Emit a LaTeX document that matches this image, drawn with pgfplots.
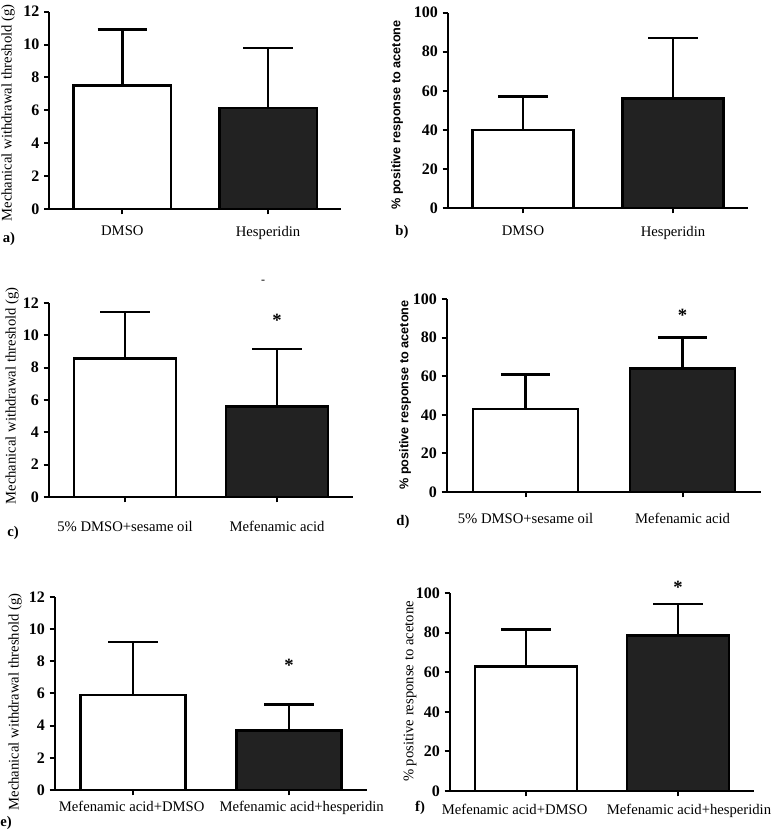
\documentclass[border=0pt]{standalone}
\usepackage{fontspec}
\setmainfont{Liberation Serif}
\newfontfamily\arialf{Liberation Sans}
\usepackage{pgfplots}
\pgfplotsset{compat=1.18}
\definecolor{darkbar}{HTML}{222222}
\pgfplotsset{
  panel/.style={
    scale only axis, anchor=south west,
    axis x line*=bottom, axis y line*=left,
    xtick pos=left, ytick pos=left,
    axis line style={line width=1.5pt, black},
    xmin=-0.5, xmax=1.5, ymin=0,
    xtick={0,1},
    tick style={black, line width=1.5pt},
    major tick length=4pt,
    tick align=outside,
    yticklabel style={font=\fontsize{12}{12}\selectfont\bfseries},
    xticklabel style={font=\fontsize{11}{12}\selectfont},
    /pgf/number format/assume math mode=true,
    clip=false,
    ybar, bar width=0.67, bar shift=0pt,
  },
  bars/.style={draw=black, line width=2pt,
    error bars/.cd, y dir=plus, y explicit,
    error bar style={line width=2pt, black},
    error mark options={rotate=90, mark size=18.5pt, line width=2pt, black}},
}
\begin{document}
\begin{tikzpicture}
\path[use as bounding box] (0,0) rectangle (582.75pt,623.25pt);
% a
\begin{axis}[panel, at={(37.1pt,466.5pt)}, width=218.6pt, height=148pt,
  ymax=12, ytick={0,2,...,12}, xticklabels={DMSO,Hesperidin},
  xticklabel style={yshift=-5.25pt}]
\addplot[fill=white, bars] coordinates {(0,7.5) +- (0,3.4)};
\addplot[fill=darkbar, bars] coordinates {(1,6.15) +- (0,3.65)};
\end{axis}
% b
\begin{axis}[panel, at={(336pt,467.25pt)}, width=225pt, height=146.5pt,
  ymax=100, ytick={0,20,...,100}, xticklabels={DMSO,Hesperidin},
  xticklabel style={yshift=-6pt}]
\addplot[fill=white, bars] coordinates {(0,40) +- (0,17)};
\addplot[fill=darkbar, bars] coordinates {(1,56) +- (0,31)};
\end{axis}
% c
\begin{axis}[panel, at={(36.75pt,250.5pt)}, width=228pt, height=145.5pt,
  ymax=12, ytick={0,2,...,12}, xticklabels={5\% DMSO+sesame oil,Mefenamic acid},
  xticklabel style={yshift=-10.5pt}]
\addplot[fill=white, bars] coordinates {(0,8.55) +- (0,2.9)};
\addplot[fill=darkbar, bars] coordinates {(1,5.6) +- (0,3.55)};
\node[font=\fontsize{14}{14}\selectfont\bfseries] at (axis cs:1,10.95) {*};
\end{axis}
% d
\begin{axis}[panel, at={(335.25pt,254.25pt)}, width=235.5pt, height=144.75pt,
  ymax=100, ytick={0,20,...,100}, xticklabels={5\% DMSO+sesame oil,Mefenamic acid},
  xticklabel style={yshift=-8.25pt}]
\addplot[fill=white, bars] coordinates {(0,43) +- (0,18)};
\addplot[fill=darkbar, bars] coordinates {(1,64) +- (0,16)};
\node[font=\fontsize{14}{14}\selectfont\bfseries] at (axis cs:1,91.5) {*};
\end{axis}
% e
\begin{axis}[panel, at={(41.25pt,30.75pt)}, width=234pt, height=144.75pt,
  ymax=12, ytick={0,2,...,12},
  xticklabels={{Mefenamic acid+DMSO\kern2pt},{\kern19pt Mefenamic acid+hesperidin}},
  xticklabel style={yshift=-0.75pt}]
\addplot[fill=white, bars] coordinates {(0,5.9) +- (0,3.3)};
\addplot[fill=darkbar, bars] coordinates {(1,3.7) +- (0,1.6)};
\node[font=\fontsize{14}{14}\selectfont\bfseries] at (axis cs:1,7.75) {*};
\end{axis}
% f
\begin{axis}[panel, at={(337.5pt,30pt)}, width=228pt, height=148.5pt,
  ymax=100, ytick={0,20,...,100},
  xticklabels={{Mefenamic acid+DMSO\kern17pt},{\kern16.5pt Mefenamic acid+hesperidin}},
  xticklabel style={yshift=-2.25pt}]
\addplot[fill=white, bars] coordinates {(0,63) +- (0,18.5)};
\addplot[fill=darkbar, bars] coordinates {(1,78.5) +- (0,16)};
\node[font=\fontsize{14}{14}\selectfont\bfseries] at (axis cs:1,102.8) {*};
\end{axis}
% y labels
\node[rotate=90, font=\fontsize{11}{12}\selectfont] at (6pt,538.5pt) {Mechanical withdrawal threshold (g)};
\node[rotate=90, font=\arialf\fontsize{9.5}{11}\selectfont\bfseries] at (297.75pt,537pt) {\% positive response to acetone};
\node[rotate=90, font=\fontsize{11}{12}\selectfont] at (9pt,326.25pt) {Mechanical withdrawal threshold (g)};
\node[rotate=90, font=\arialf\fontsize{9.5}{11}\selectfont\bfseries] at (303.75pt,327pt) {\% positive response to acetone};
\node[rotate=90, font=\fontsize{11}{12}\selectfont] at (11.25pt,96.75pt) {Mechanical withdrawal threshold (g)};
\node[rotate=90, font=\fontsize{11}{12}\selectfont] at (307.5pt,104.6pt) {\% positive response to acetone};
% panel letters
\node[font=\fontsize{11}{12}\selectfont\bfseries] at (6.75pt,444pt) {a)};
\node[font=\fontsize{11}{12}\selectfont\bfseries] at (301.5pt,449.25pt) {b)};
\node[font=\fontsize{11}{12}\selectfont\bfseries] at (9.75pt,223.5pt) {c)};
\node[font=\fontsize{11}{12}\selectfont\bfseries] at (302.25pt,231.75pt) {d)};
\node[font=\fontsize{11}{12}\selectfont\bfseries] at (4.5pt,6pt) {e)};
\node[font=\fontsize{11}{12}\selectfont\bfseries] at (315pt,17.25pt) {f)};
\node[font=\fontsize{9}{10}\selectfont] at (197.25pt,411.75pt) {-};
\end{tikzpicture}
\end{document}
